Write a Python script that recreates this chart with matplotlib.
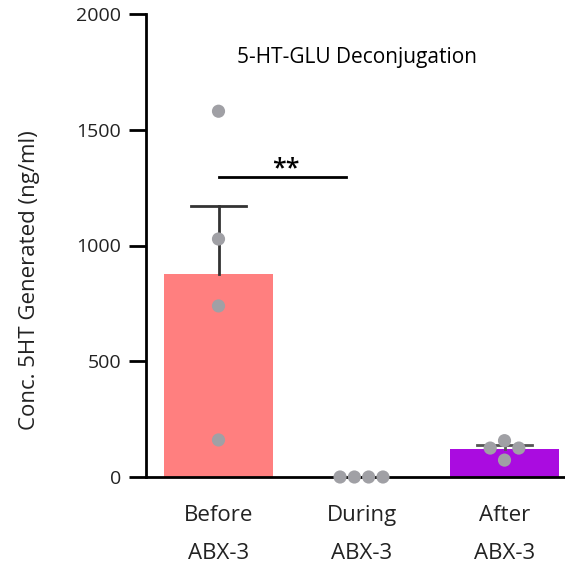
import matplotlib as mpl
mpl.use('Agg')
import matplotlib.pyplot as plt
import numpy as np

plt.rcParams['font.family'] = ['Open Sans', 'DejaVu Sans']

groups = ['Before\nABX-3', 'During\nABX-3', 'After\nABX-3']
points = [
    [1580, 1028, 739, 160],
    [0, 0, 0, 0],
    [157, 125, 125, 73],
]
bar_colors = ['#FF7F7F', '#FFFFFF', '#AA0CE0']
err_colors = ['#333333', '#333333', '#555555']
sig_pair = (0, 1)
sig_y = 1295
sig_text = '**'
title = '5-HT-GLU Deconjugation'
ylabel = 'Conc. 5HT Generated (ng/ml)'

# horizontal spread of the dots in each group
jitter = [[0, 0, 0, 0], [-0.15, -0.05, 0.05, 0.15], [0, -0.1, 0.1, 0]]
cap_half = 0.19

means = [np.mean(p) for p in points]
sems = [np.std(p, ddof=1) / np.sqrt(len(p)) for p in points]
x = np.arange(len(groups))

fig = plt.figure(figsize=(5.65, 5.73), dpi=100)
ax = fig.add_axes([146 / 565, 96 / 573, 419 / 565, 463 / 573])

for i in x:
    if means[i] > 0:
        ax.bar(i, means[i], width=0.76, color=bar_colors[i], zorder=1)
        top = means[i] + sems[i]
        ax.plot([i, i], [means[i], top], color=err_colors[i], lw=2, zorder=2)
        ax.plot([i - cap_half, i + cap_half], [top, top], color=err_colors[i], lw=2, zorder=2)
    ax.scatter(i + np.array(jitter[i]), points[i], s=90, color='#A0A0A5',
               edgecolors='none', zorder=3, clip_on=False)

ax.plot([x[sig_pair[0]], x[sig_pair[1]] - 0.11], [sig_y, sig_y], color='black', lw=2)
ax.text(0.47, sig_y - 20, sig_text, ha='center', va='bottom', fontsize=18, fontweight='semibold')

ax.text(0.503, 0.905, title, transform=ax.transAxes, ha='center', va='center', fontsize=15)

ax.set_xlim(-0.507, 2.423)
ax.set_ylim(0, 2000)
ax.set_yticks([0, 500, 1000, 1500, 2000])
ax.set_yticklabels(['0', '500', '1000', '1500', '2000'], fontsize=14, color='#222222')
ax.set_xticks(x)
ax.set_xticklabels(groups, fontsize=16, color='#222222', linespacing=2.1)
ax.tick_params(axis='x', length=0, pad=20)
ax.tick_params(axis='y', length=12, width=2, pad=6)
ax.spines['top'].set_visible(False)
ax.spines['right'].set_visible(False)
ax.spines['left'].set_linewidth(2)
ax.spines['bottom'].set_linewidth(2)
ax.set_ylabel(ylabel, fontsize=16, color='#222222')
ax.yaxis.set_label_coords(-0.253, 0.425)

plt.savefig('out.png')
